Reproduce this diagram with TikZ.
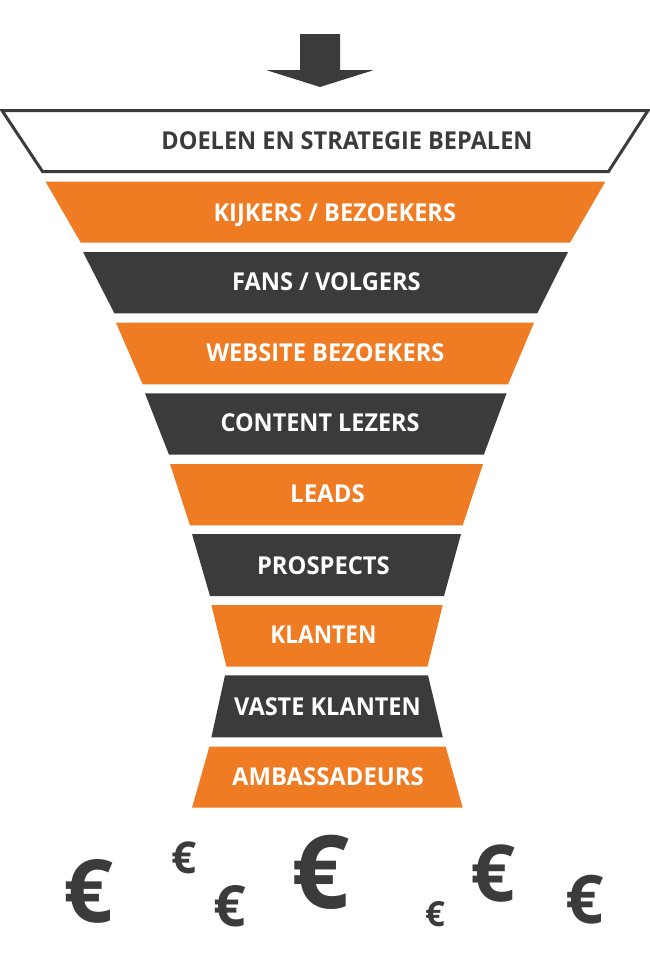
\documentclass[tikz,border=0pt]{standalone}
\usepackage{fontspec}
\setmainfont{Open Sans}
\usepackage{graphicx}
\definecolor{fOrange}{HTML}{EF7B22}
\definecolor{fDark}{HTML}{3B3B3B}
\newcommand\fittext[2]{\resizebox{#1}{17.6pt}{\rule{0pt}{\fontcharht\font`H}\smash{#2}}}
\newcommand\euroglyph[1]{\resizebox{!}{#1}{€}}
\tikzset{
  lbl/.style={inner sep=0pt, font=\bfseries, text=white, anchor=center},
  eur/.style={inner sep=0pt, font=\bfseries, text=fDark, anchor=center},
  orangeband/.style={fill=fOrange},
  darkband/.style={fill=fDark}
}
\begin{document}
\begin{tikzpicture}[x=1pt,y=-1pt]
\useasboundingbox (0,0) rectangle (650,959);
% arrow
\fill[fDark] (300,34) -- (340,34) -- (340,70) -- (374,70) -- (320,87) -- (266,70) -- (300,70) -- cycle;
% top outlined trapezoid
\draw[fDark, line width=3pt, line join=miter] (2,110.5) -- (648,110.5) -- (608.5,171.5) -- (42.5,171.5) -- cycle;
\node[lbl, text=fDark] (doel) at (347,140.5) {\fittext{371pt}{DOELEN EN STRATEGIE BEPALEN}};
% bands
\fill[orangeband] (45.6,181.7) -- (605.3,181.7) -- (570,242.7) -- (80.8,242.7) -- cycle;
\node[lbl] (kijk) at (334.8,212.5) {\fittext{242.5pt}{KIJKERS / BEZOEKERS}};
\fill[darkband] (83,252) -- (568,252) -- (537.3,313.3) -- (114.4,313.3) -- cycle;
\node[lbl] (fans) at (326.4,282) {\fittext{188.6pt}{FANS / VOLGERS}};
\fill[orangeband] (116,322.7) -- (534,322.7) -- (508,384.3) -- (142.6,384.3) -- cycle;
\node[lbl] (web) at (325.4,352.3) {\fittext{238pt}{WEBSITE BEZOEKERS}};
\fill[darkband] (145,393.3) -- (506.6,393.3) -- (483.8,454.7) -- (169,454.7) -- cycle;
\node[lbl] (cont) at (320.1,422.8) {\fittext{199pt}{CONTENT LEZERS}};
\fill[orangeband] (170,464) -- (483,464) -- (462.7,525.3) -- (190,525.3) -- cycle;
\node[lbl] (lead) at (327.5,493.8) {\fittext{74.6pt}{LEADS}};
\fill[darkband] (192,534) -- (461,534) -- (444,596) -- (210,596) -- cycle;
\node[lbl] (pros) at (323.4,565.5) {\fittext{132.7pt}{PROSPECTS}};
\fill[orangeband] (211.4,605) -- (442.8,605) -- (427.4,666.7) -- (226.4,666.7) -- cycle;
\node[lbl] (klan) at (323.4,635) {\fittext{106pt}{KLANTEN}};
\fill[darkband] (225,675.3) -- (428,675.3) -- (442.8,737.3) -- (211.4,737.3) -- cycle;
\node[lbl] (vast) at (327.5,706.7) {\fittext{186.6pt}{VASTE KLANTEN}};
\fill[orangeband] (209.4,746.7) -- (445.7,746.7) -- (462.7,807.7) -- (192,807.7) -- cycle;
\node[lbl] (amba) at (328,776.5) {\fittext{191.5pt}{AMBASSADEURS}};
% euros
\node[eur] (e1) at (89,891.7) {\euroglyph{63pt}};
\node[eur] (e2) at (184.5,857.5) {\euroglyph{31.7pt}};
\node[eur] (e3) at (230,906.2) {\euroglyph{41pt}};
\node[eur] (e4) at (320.5,872.7) {\euroglyph{73.3pt}};
\node[eur] (e5) at (435,914.2) {\euroglyph{25pt}};
\node[eur] (e6) at (493,873.3) {\euroglyph{56.7pt}};
\node[eur] (e7) at (585,899.2) {\euroglyph{48.3pt}};
\end{tikzpicture}
\end{document}
